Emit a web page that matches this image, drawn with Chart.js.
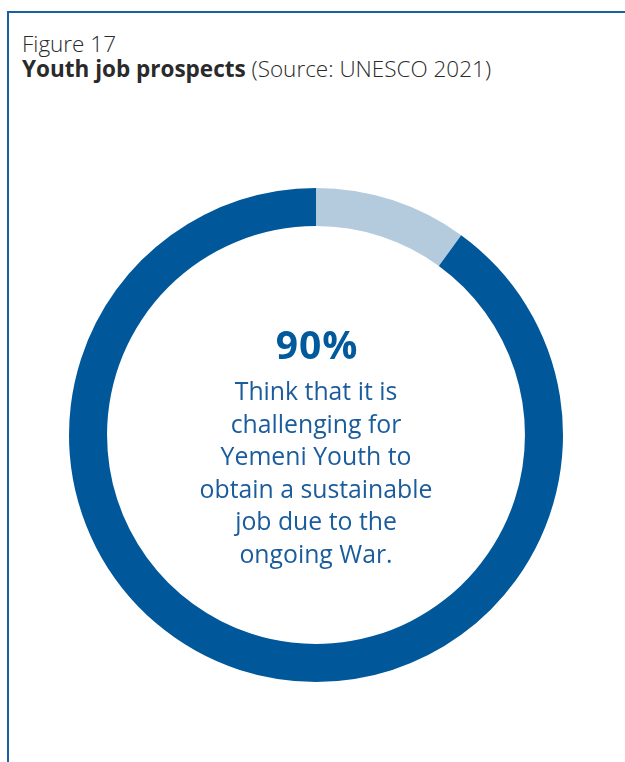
<!DOCTYPE html>
<html>
<head>
<meta charset="utf-8">
<script src="https://cdn.jsdelivr.net/npm/chart.js@4.4.0/dist/chart.umd.min.js"></script>
<style>
  html, body { margin: 0; padding: 0; background: #fff; }
  #wrap { position: relative; width: 625px; height: 762px; overflow: hidden; }
  #frame {
    position: absolute; left: 7px; top: 11px; right: -10px; bottom: -10px;
    border-top: 2.5px solid #1a5f9e; border-left: 2.5px solid #1a5f9e;
  }
  #heading {
    position: absolute; left: 22px; top: 31px;
    font-family: "Open Sans", "Noto Sans", sans-serif; font-size: 22.5px; line-height: 25px;
    color: #2a2a2a; white-space: nowrap;
  }
  #heading .fig { font-weight: 300; }
  #heading b { font-weight: 700; }
  #heading .src { font-weight: 300; }
  canvas { position: absolute; left: 0; top: 0; }
</style>
</head>
<body>
<div id="wrap">
  <div id="frame"></div>
  <div id="heading">
    <div class="fig">Figure 17</div>
    <div><b>Youth job prospects</b> <span class="src">(Source: UNESCO 2021)</span></div>
  </div>
  <canvas id="prospectsChart" width="625" height="762"></canvas>
</div>
<script>
// Survey share: youth who find it hard to get a sustainable job vs. the rest
const labels = ['Others', 'Think it is challenging'];
const shares = [10, 90];
const sliceColors = ['#b4cbdd', '#00589b'];

const headline = shares[1] + '%';
const captionLines = [
  'Think that it is',
  'challenging for',
  'Yemeni Youth to',
  'obtain a sustainable',
  'job due to the',
  'ongoing War.'
];

// Writes the percentage and caption inside the ring
const centerText = {
  id: 'centerText',
  afterDraw(chart) {
    const { ctx, chartArea } = chart;
    const cx = (chartArea.left + chartArea.right) / 2;
    ctx.save();
    ctx.textAlign = 'center';
    ctx.textBaseline = 'alphabetic';
    ctx.fillStyle = '#005a9c';
    ctx.font = 'bold 39px "Open Sans", "Noto Sans", sans-serif';
    ctx.letterSpacing = '1px';
    ctx.fillText(headline, cx + 1, 359);
    ctx.letterSpacing = '0px';
    ctx.fillStyle = '#1b5c9c';
    ctx.font = '24.8px "Open Sans", "Noto Sans", sans-serif';
    captionLines.forEach((line, i) => {
      ctx.fillText(line, cx, 400 + i * 32.6);
    });
    ctx.restore();
  }
};

new Chart(document.getElementById('prospectsChart'), {
  type: 'doughnut',
  data: {
    labels: labels,
    datasets: [{
      data: shares,
      backgroundColor: sliceColors,
      borderWidth: 0,
      hoverOffset: 0
    }]
  },
  options: {
    responsive: false,
    animation: false,
    cutout: '84.6%',
    layout: { padding: { left: 69, right: 62, top: 188, bottom: 80 } },
    plugins: {
      legend: { display: false },
      tooltip: { enabled: false },
      title: { display: false }
    }
  },
  plugins: [centerText]
});
</script>
</body>
</html>
